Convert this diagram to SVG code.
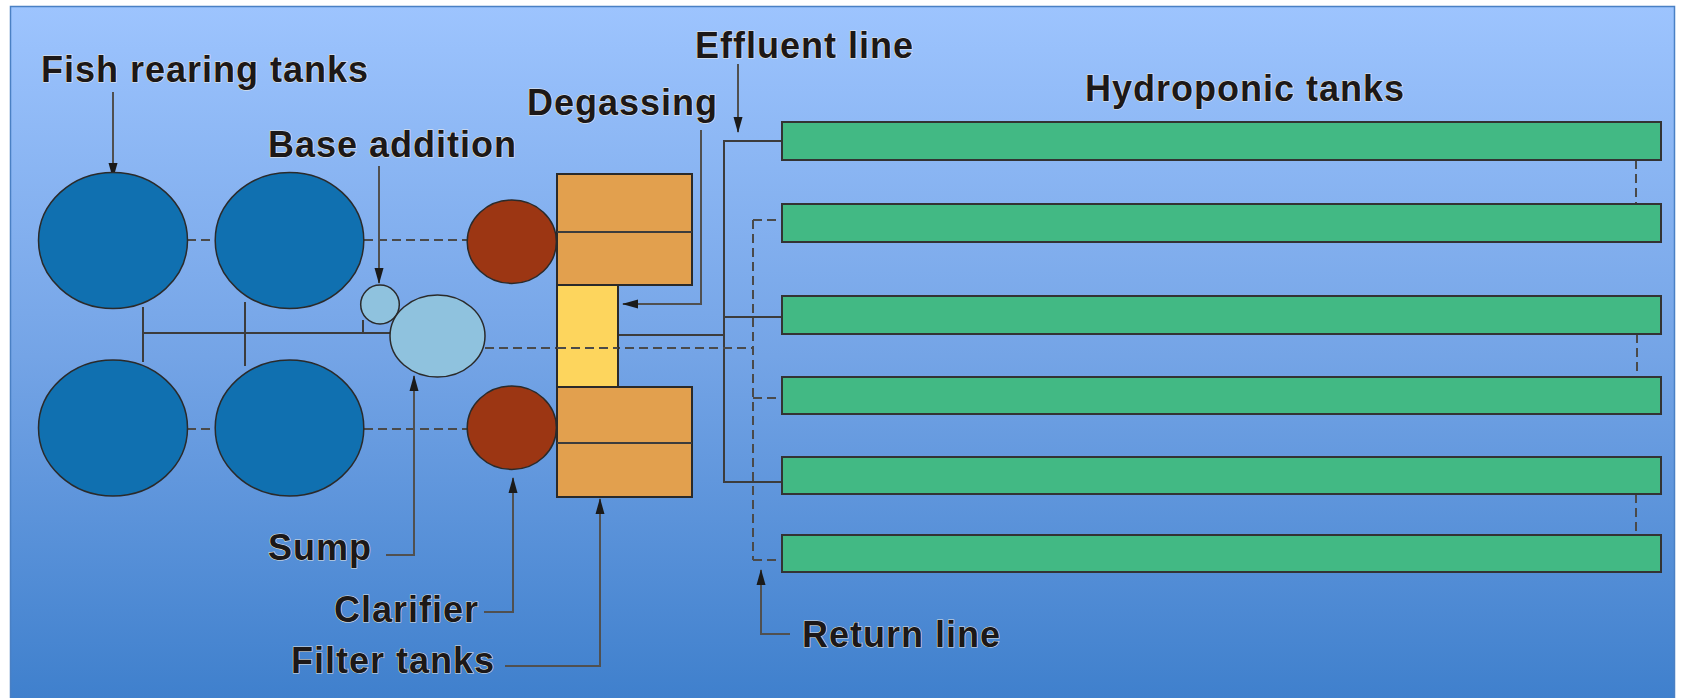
<svg xmlns="http://www.w3.org/2000/svg" width="1681" height="698" viewBox="0 0 1681 698">
<defs>
<linearGradient id="bg" x1="0" y1="0" x2="0" y2="1">
<stop offset="0" stop-color="#9dc4fe"/>
<stop offset="0.5" stop-color="#74a4e6"/>
<stop offset="1" stop-color="#3e7fcc"/>
</linearGradient>
<marker id="arr" markerWidth="16" markerHeight="10" refX="15" refY="5" orient="auto" markerUnits="userSpaceOnUse">
<path d="M0,0.5 L16,5 L0,9.5 Z" fill="#1a1a1a"/>
</marker>
</defs>
<style>
.lbl{font-family:"Liberation Sans",Arial,sans-serif;font-weight:bold;font-size:36px;letter-spacing:1px;fill:#1c1818;stroke:#fff4e0;stroke-width:1.2px;stroke-opacity:0.85;paint-order:stroke;}
.fish{fill:#1070b0;stroke:#2a2a2a;stroke-width:1.5;}
.clar{fill:#9c3613;stroke:#2a2a2a;stroke-width:1.5;}
.sump{fill:#8fc2de;stroke:#2a2a2a;stroke-width:1.5;}
.filt{fill:#e2a04e;stroke:#2a2a2a;stroke-width:2;}
.degas{fill:#fdd55d;stroke:#2a2a2a;stroke-width:2;}
.hydro{fill:#42b984;stroke:#333;stroke-width:2;}
.pipe{fill:none;stroke:#3c3c3c;stroke-width:2;}
.dash{fill:none;stroke:#4a4a4a;stroke-width:2;stroke-dasharray:9,5;}
.lead{fill:none;stroke:#505050;stroke-width:2;}
</style>
<rect x="0" y="0" width="1681" height="698" fill="#ffffff"/>
<rect x="10.5" y="6.5" width="1664" height="700" fill="url(#bg)" stroke="#4a80c4" stroke-width="1.5"/>

<g id="connectors">
<line class="dash" x1="187" y1="240" x2="215" y2="240"/>
<line class="dash" x1="364" y1="240" x2="467" y2="240"/>
<line class="dash" x1="187" y1="429" x2="215" y2="429"/>
<line class="dash" x1="364" y1="429" x2="467" y2="429"/>
<line class="pipe" x1="143" y1="307" x2="143" y2="362"/>
<line class="pipe" x1="245" y1="302" x2="245" y2="366"/>
<line class="pipe" x1="142" y1="333" x2="391" y2="333"/>
<line class="pipe" x1="363" y1="320" x2="363" y2="333"/>
<line class="pipe" x1="387" y1="309" x2="408" y2="323"/>
<polyline class="pipe" points="618,335 724,335"/>
<line class="pipe" x1="724" y1="141" x2="724" y2="482"/>
<line class="pipe" x1="723" y1="141" x2="782" y2="141"/>
<line class="pipe" x1="724" y1="317" x2="782" y2="317"/>
<line class="pipe" x1="723" y1="482" x2="782" y2="482"/>
<line class="dash" x1="485" y1="348" x2="753" y2="348"/>
<line class="dash" x1="753" y1="220" x2="753" y2="560"/>
<line class="dash" x1="753" y1="220" x2="782" y2="220"/>
<line class="dash" x1="753" y1="398" x2="782" y2="398"/>
<line class="dash" x1="753" y1="560" x2="782" y2="560"/>
<line class="dash" x1="1636" y1="160" x2="1636" y2="204" stroke-dasharray="8,5"/>
<line class="dash" x1="1637" y1="334" x2="1637" y2="377" stroke-dasharray="8,5"/>
<line class="dash" x1="1636" y1="494" x2="1636" y2="535" stroke-dasharray="8,5"/>
<line class="lead" x1="113" y1="92" x2="113" y2="178" marker-end="url(#arr)"/>
<line class="lead" x1="379" y1="166" x2="379" y2="283" marker-end="url(#arr)"/>
<polyline class="lead" points="701,130 701,304 623,304" marker-end="url(#arr)"/>
<line class="lead" x1="738" y1="64" x2="738" y2="132" marker-end="url(#arr)"/>
<polyline class="lead" points="386,555 414,555 414,376" marker-end="url(#arr)"/>
<polyline class="lead" points="484,612 513,612 513,478" marker-end="url(#arr)"/>
<polyline class="lead" points="505,666 600,666 600,499" marker-end="url(#arr)"/>
<polyline class="lead" points="790,634 761,634 761,570" marker-end="url(#arr)"/>
</g>

<g id="fish-tanks">
<ellipse class="fish" cx="113" cy="240.5" rx="74.5" ry="68"/>
<ellipse class="fish" cx="289.5" cy="240.5" rx="74.3" ry="68"/>
<ellipse class="fish" cx="113" cy="428" rx="74.5" ry="68"/>
<ellipse class="fish" cx="289.5" cy="428" rx="74.3" ry="68"/>
</g>
<g id="clarifiers">
<ellipse class="clar" cx="511.8" cy="241.7" rx="44.6" ry="41.7"/>
<ellipse class="clar" cx="511.8" cy="427.7" rx="44.6" ry="41.7"/>
</g>
<g id="base-addition">
<ellipse class="sump" cx="380" cy="304.5" rx="19.3" ry="19.5"/>
</g>
<g id="sump">
<ellipse class="sump" cx="437.5" cy="336" rx="47.5" ry="41"/>
</g>
<g id="filter-tanks">
<rect class="filt" x="557" y="174" width="135" height="111"/>
<line class="pipe" x1="557" y1="232" x2="692" y2="232"/>
<rect class="filt" x="557" y="387" width="135" height="110"/>
<line class="pipe" x1="557" y1="443" x2="692" y2="443"/>
</g>
<g id="degassing">
<rect class="degas" x="557" y="285" width="61" height="102"/>
<line class="dash" x1="557" y1="348" x2="618" y2="348"/>
</g>
<g id="hydroponic-tanks">
<rect class="hydro" x="782" y="122" width="879" height="38"/>
<rect class="hydro" x="782" y="204" width="879" height="38"/>
<rect class="hydro" x="782" y="296" width="879" height="38"/>
<rect class="hydro" x="782" y="377" width="879" height="37"/>
<rect class="hydro" x="782" y="457" width="879" height="37"/>
<rect class="hydro" x="782" y="535" width="879" height="37"/>
</g>

<g id="labels">
<text class="lbl" x="41" y="82">Fish rearing tanks</text>
<text class="lbl" x="268" y="157">Base addition</text>
<text class="lbl" x="527" y="115">Degassing</text>
<text class="lbl" x="695" y="58">Effluent line</text>
<text class="lbl" x="1085" y="101">Hydroponic tanks</text>
<text class="lbl" x="268" y="560">Sump</text>
<text class="lbl" x="334" y="622">Clarifier</text>
<text class="lbl" x="291" y="673">Filter tanks</text>
<text class="lbl" x="802" y="647">Return line</text>
</g>
</svg>
